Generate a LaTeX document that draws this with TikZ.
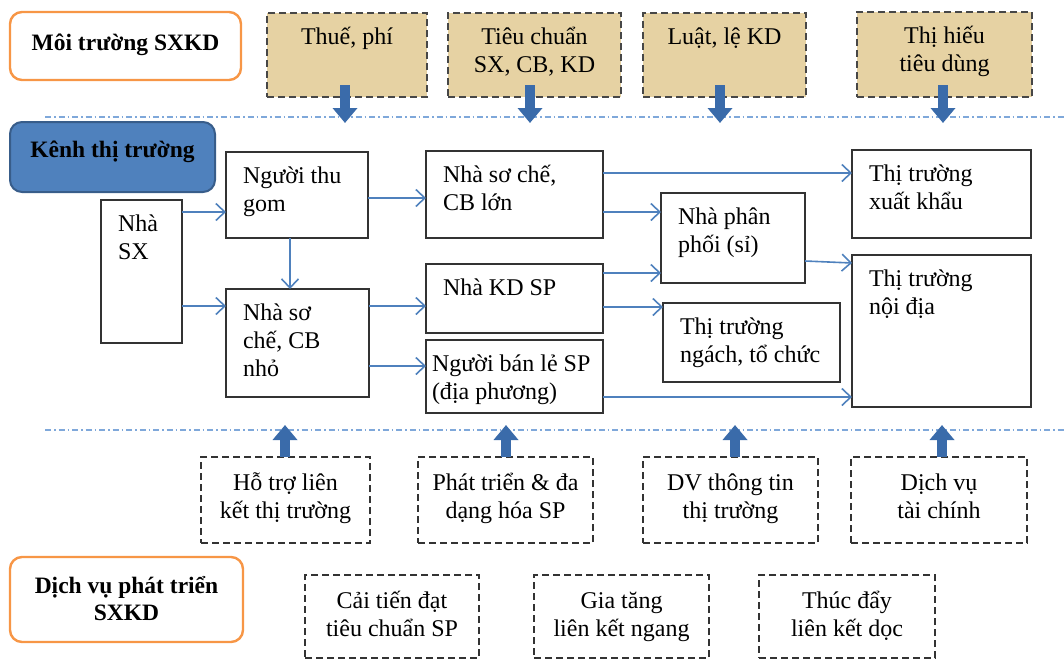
\documentclass[tikz,border=0pt]{standalone}
\usepackage{fontspec}
\setmainfont{Liberation Serif}
\usetikzlibrary{arrows.meta}
\definecolor{orangeB}{HTML}{F79646}
\definecolor{blueF}{HTML}{4F81BD}
\definecolor{blueD}{HTML}{385D8A}
\definecolor{blockA}{HTML}{3A6BAA}
\definecolor{tanF}{HTML}{E6D2A3}
\definecolor{sepC}{HTML}{7FA8DA}
\definecolor{boxC}{HTML}{333333}
\newcommand{\fs}{\rule{0pt}{19pt}}
\newcommand{\mybox}[6]{\node[#1, anchor=north west, minimum width={(#5-#3)*1pt}, minimum height={(#6-#4)*1pt}] (#2) at (#3,#4) {};}
\begin{document}
\begin{tikzpicture}[x=1pt,y=-1pt,
  every node/.style={inner sep=0pt, outer sep=0pt},
  bodyfont/.style={font=\fontsize{24}{28}\selectfont},
  boldfont/.style={font=\fontsize{23.5}{27}\selectfont\bfseries},
  solid box/.style={draw=boxC, line width=1.6pt, fill=white},
  tan box/.style={draw=boxC!90, line width=1.8pt, dash pattern=on 7pt off 4pt, fill=tanF},
  dash box/.style={draw=boxC, line width=1.7pt, dash pattern=on 7pt off 4pt, fill=white},
  orange box/.style={draw=orangeB, line width=2.4pt, rounded corners=12pt, fill=white},
  blue box/.style={draw=blueD, line width=2pt, rounded corners=12pt, fill=blueF},
  txtl/.style={label={[anchor=north west, xshift=17pt, yshift=-12pt, align=left, bodyfont]north west:{#1}}},
  txtn/.style={label={[anchor=north west, xshift=6pt, yshift=-12pt, align=left, bodyfont]north west:{#1}}},
  txtc/.style={label={[anchor=north, yshift=-12pt, align=center, bodyfont]north:{#1}}},
  txtd/.style={label={[anchor=north, yshift=-14pt, align=center, bodyfont]north:{#1}}},
  txtm/.style={label={[anchor=center, yshift=2pt, align=center, boldfont]center:{#1}}},
  txtk/.style={label={[anchor=north, yshift=-16pt, align=center, boldfont]north:{#1}}},
  arr/.style={draw=blueF, line width=1.6pt, -{Straight Barb[length=9pt, width=17pt, line width=1.6pt]}},
  blk/.style={draw=blockA, line width=10pt, -{Triangle[width=24pt, length=15pt]}},
  sep/.style={draw=sepC, line width=1.4pt, dash pattern=on 6pt off 3pt on 1.5pt off 3pt}
]
\useasboundingbox (0,0) rectangle (1064,659);

% separators
\coordinate (s1a) at (45,117);
\coordinate (s1b) at (1064,117);
\coordinate (s2a) at (45,430);
\coordinate (s2b) at (1064,430);
\draw[sep] (s1a) -- (s1b);
\draw[sep] (s2a) -- (s2b);

% headings
\mybox{orange box, txtm={\fs Môi trường SXKD}}{moi}{10}{12}{241}{80}
\mybox{blue box, txtk={\fs Kênh thị trường}}{kenh}{10}{122}{215}{192}
\mybox{orange box, txtm={\fs Dịch vụ phát triển\\SXKD}}{dvpt}{10}{557}{243}{642}

% top factors
\mybox{tan box, txtc={\fs Thuế, phí}}{thue}{267}{13}{427}{97}
\mybox{tan box, txtc={\fs Tiêu chuẩn\\SX, CB, KD}}{tieu}{448}{13}{621}{97}
\mybox{tan box, txtc={\fs Luật, lệ KD}}{luat}{643}{13}{806}{97}
\mybox{tan box, txtc={\fs Thị hiếu\\tiêu dùng}}{hieu}{857}{12}{1032}{97}

% channel boxes
\mybox{solid box, txtl={\fs Nhà\\SX}}{sx}{101}{200}{182}{343}
\mybox{solid box, txtl={\fs Người thu\\gom}}{thu}{226}{152}{368}{238}
\mybox{solid box, txtl={\fs Nhà sơ\\chế, CB\\nhỏ}}{nho}{226}{289}{369}{397}
\mybox{solid box, txtl={\fs Nhà sơ chế,\\CB lớn}}{lon}{426}{151}{603}{238}
\mybox{solid box, txtl={\fs Nhà KD SP}}{kd}{426}{264}{603}{333}
\mybox{solid box, txtn={\fs Người bán lẻ SP\\(địa phương)}}{le}{426}{340}{603}{413}
\mybox{solid box, txtl={\fs Nhà phân\\phối (sỉ)}}{pp}{661}{193}{805}{283}
\mybox{solid box, txtl={\fs Thị trường\\ngách, tổ chức}}{ngach}{663}{303}{840}{382}
\mybox{solid box, txtl={\fs Thị trường\\xuất khẩu}}{xk}{852}{150}{1031}{238}
\mybox{solid box, txtl={\fs Thị trường\\nội địa}}{nd}{852}{255}{1031}{407}

% support services
\mybox{dash box, txtd={\fs Hỗ trợ liên\\kết thị trường}}{ho}{201}{457}{370}{543}
\mybox{dash box, txtd={\fs Phát triển \& đa\\dạng hóa SP}}{pt}{418}{457}{593}{543}
\mybox{dash box, txtd={\fs DV thông tin\\thị trường}}{dv}{643}{457}{818}{543}
\mybox{dash box, txtd={\fs Dịch vụ\\tài chính}}{tc}{851}{457}{1027}{543}
\mybox{dash box, txtd={\fs Cải tiến đạt\\tiêu chuẩn SP}}{cai}{305}{575}{479}{658}
\mybox{dash box, txtd={\fs Gia tăng\\liên kết ngang}}{gia}{534}{575}{709}{658}
\mybox{dash box, txtd={\fs Thúc đẩy\\liên kết dọc}}{thuc}{759}{575}{935}{658}

% thin flow arrows
\draw[arr] (sx.east |- 0,212) -- (thu.west |- 0,212);
\draw[arr] (sx.east |- 0,306) -- (nho.west |- 0,306);
\draw[arr] (thu.south -| 290,0) -- (nho.north -| 290,0);
\draw[arr] (thu.east |- 0,198) -- (lon.west |- 0,198);
\draw[arr] (nho.east |- 0,306) -- (kd.west |- 0,306);
\draw[arr] (nho.east |- 0,366) -- (le.west |- 0,366);
\draw[arr] (lon.east |- 0,173) -- (xk.west |- 0,173);
\draw[arr] (lon.east |- 0,212) -- (pp.west |- 0,212);
\draw[arr] (kd.east |- 0,273) -- (pp.west |- 0,273);
\draw[arr] (kd.east |- 0,307) -- (ngach.west |- 0,307);
\draw[arr] (pp.east |- 0,261) -- (nd.west |- 0,263);
\draw[arr] (le.east |- 0,397) -- (nd.west |- 0,397);

% block arrows (down)
\coordinate (d1) at (345,123);
\coordinate (d2) at (530,123);
\coordinate (d3) at (720,123);
\coordinate (d4) at (943,123);
\draw[blk] ([yshift=12pt]thue.south -| d1) -- (d1);
\draw[blk] ([yshift=12pt]tieu.south -| d2) -- (d2);
\draw[blk] ([yshift=12pt]luat.south -| d3) -- (d3);
\draw[blk] ([yshift=12pt]hieu.south -| d4) -- (d4);

% block arrows (up)
\coordinate (u1) at (285,425);
\coordinate (u2) at (506,425);
\coordinate (u3) at (735,425);
\coordinate (u4) at (942,425);
\draw[blk] (ho.north -| u1) -- (u1);
\draw[blk] (pt.north -| u2) -- (u2);
\draw[blk] (dv.north -| u3) -- (u3);
\draw[blk] (tc.north -| u4) -- (u4);
\end{tikzpicture}
\end{document}
